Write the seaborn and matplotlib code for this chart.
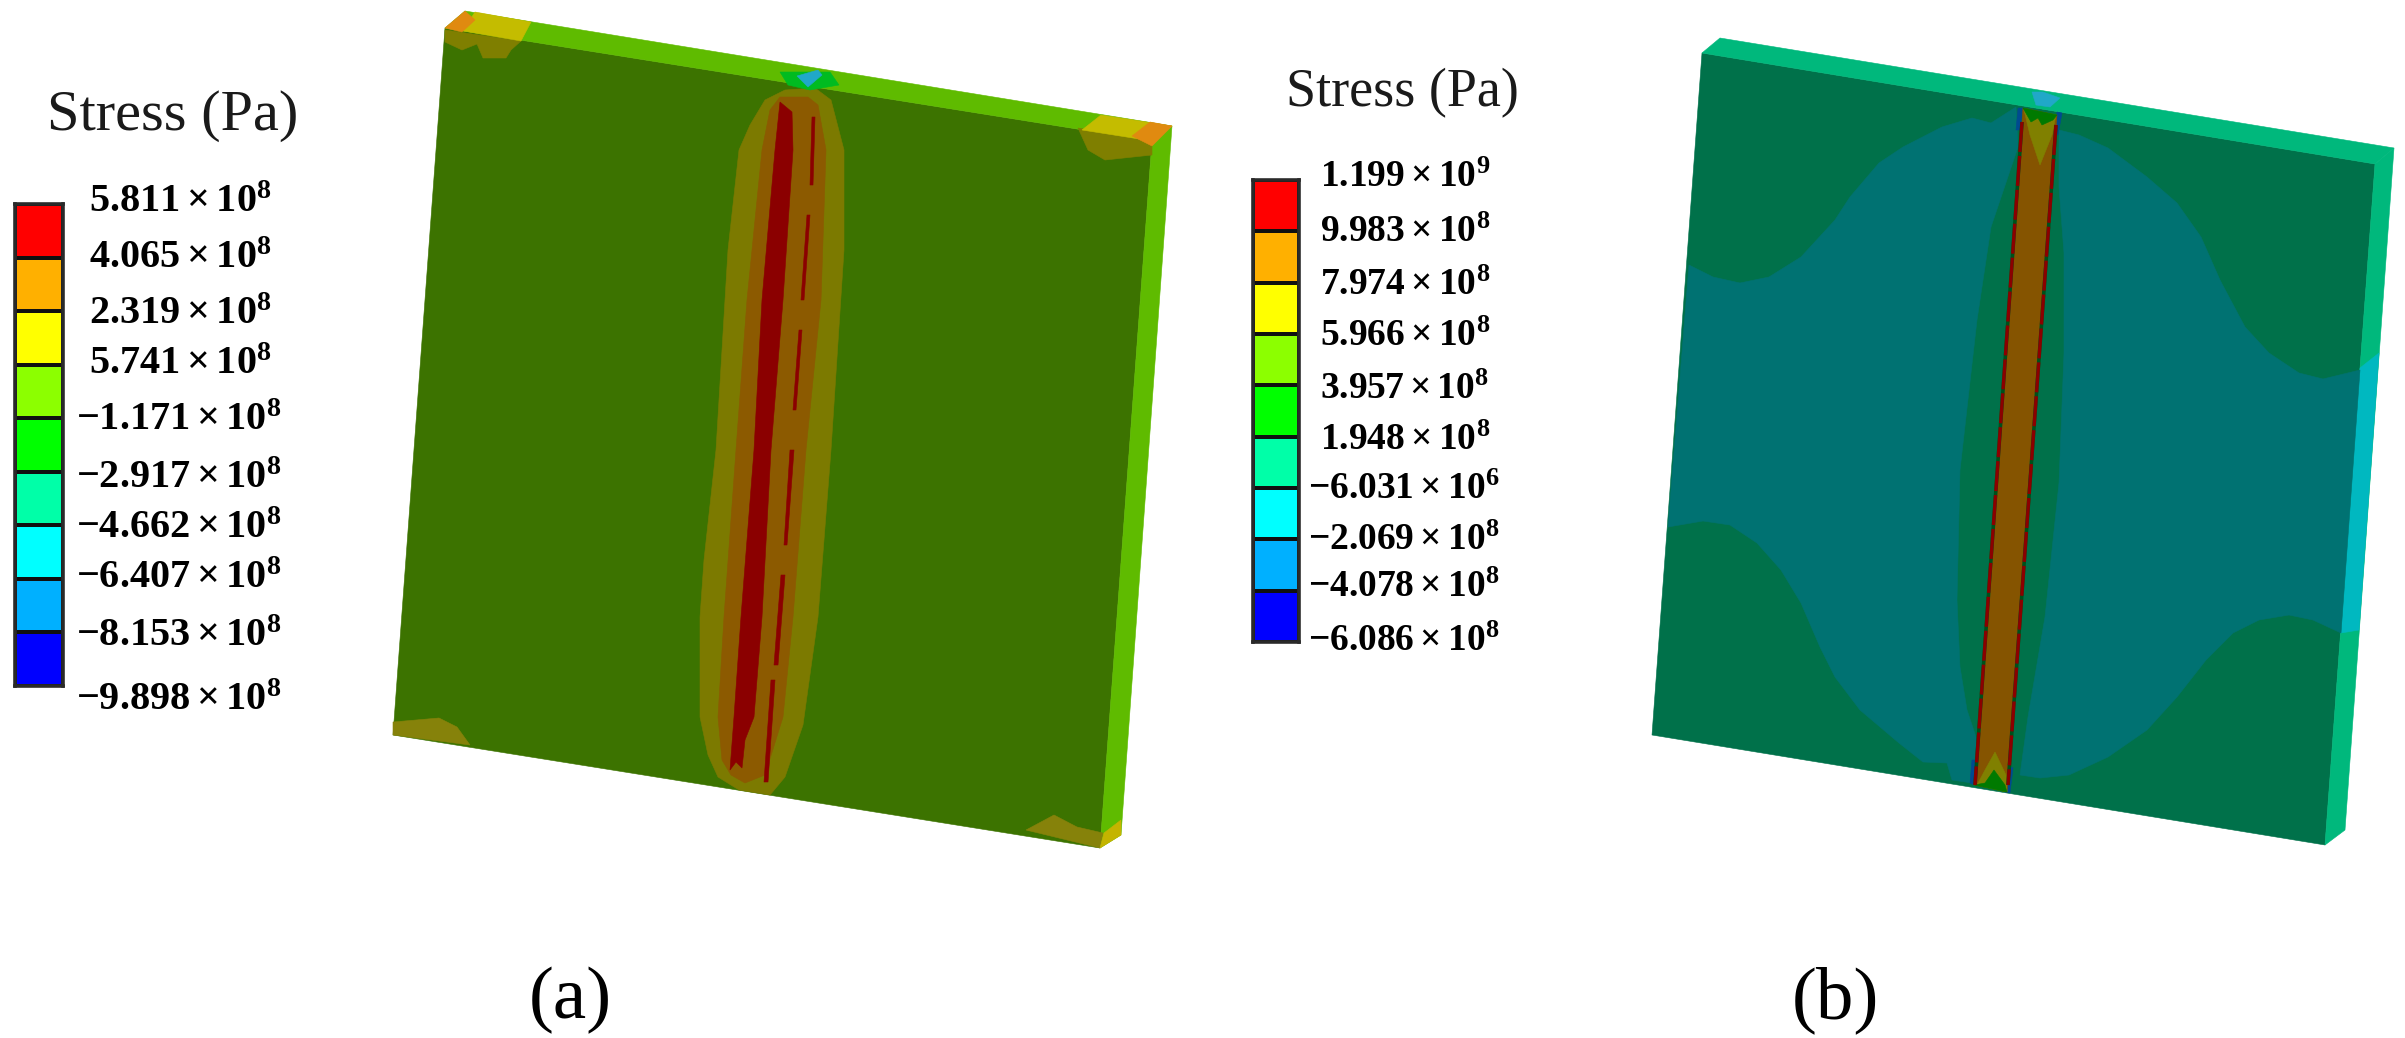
import numpy as np
import matplotlib
matplotlib.use("Agg")
import matplotlib.pyplot as plt
from matplotlib.colors import ListedColormap
import seaborn as sns

# ---- legend values ----
bands = ["#ff0000", "#ffb000", "#ffff00", "#8cff00", "#00ff00",
         "#00ffa8", "#00ffff", "#00b0ff", "#0000ff"]
a_sign = ["", "", "", "", "-", "-", "-", "-", "-", "-"]
a_mant = ["5.811", "4.065", "2.319", "5.741", "1.171", "2.917", "4.662", "6.407", "8.153", "9.898"]
a_exp = [8, 8, 8, 8, 8, 8, 8, 8, 8, 8]
b_sign = ["", "", "", "", "", "", "-", "-", "-", "-"]
b_mant = ["1.199", "9.983", "7.974", "5.966", "3.957", "1.948", "6.031", "2.069", "4.078", "6.086"]
b_exp = [9, 8, 8, 8, 8, 8, 6, 8, 8, 8]
a_label_y = [202, 258, 314, 364, 421, 479, 529, 579, 637, 700]
b_label_y = [178, 233, 286, 337, 390, 441, 490, 541, 588, 642]

# ---- panel (a) contour regions (image pixels) ----
a_top = [(465, 11), (1172, 126), (1152, 141), (445, 28)]
a_side = [(1152, 141), (1172, 126), (1121, 835), (1100, 848)]
a_front = [(445, 28), (1152, 141), (1100, 848), (393, 735)]
a_band_outer = [(785, 90), (765, 100), (750, 125), (739, 150), (728, 250), (716, 450), (704, 560), (700, 617),
                (700, 717), (708, 755), (718, 777), (739, 790), (770, 795), (785, 777), (803, 725), (818, 617),
                (831, 450), (844, 250), (844, 150), (831, 100), (815, 88)]
a_band_mid = [(780, 97), (770, 110), (762, 150), (747, 300), (736, 450), (724, 617), (718, 717), (722, 760),
              (731, 775), (745, 783), (765, 775), (783, 717), (793, 617), (806, 450), (821, 300), (826, 150),
              (818, 105), (808, 97)]
a_red_main = [(780, 102), (775, 150), (762, 300), (754, 450), (741, 617), (734, 717), (730, 770),
              (736, 762), (742, 768), (745, 740), (754, 717), (762, 617), (771, 450), (783, 300), (793, 150), (792, 112)]
a_red_thin_1 = [(812, 117), (815, 117), (813, 185), (810, 185)]
a_red_thin_2 = [(807, 215), (810, 215), (804, 300), (801, 300)]
a_red_thin_3 = [(799, 330), (802, 330), (796, 410), (793, 410)]
a_red_thin_4 = [(790, 450), (794, 450), (787, 545), (784, 545)]
a_red_thin_5 = [(781, 575), (785, 575), (778, 665), (774, 665)]
a_red_thin_6 = [(771, 680), (775, 680), (768, 782), (764, 782)]
a_corner_tl_front = [(445, 30), (521, 41), (511, 50), (506, 58), (483, 58), (477, 44), (462, 50), (445, 42)]
a_corner_tl_top = [(475, 12), (531, 22), (521, 41), (463, 31)]
a_corner_tl_tip = [(445, 28), (465, 11), (475, 20), (462, 32)]
a_corner_tr_front = [(1078, 128), (1152, 141), (1152, 155), (1105, 160), (1088, 150)]
a_corner_tr_top = [(1101, 115), (1172, 126), (1152, 141), (1082, 130)]
a_corner_tr_tip = [(1172, 126), (1152, 146), (1132, 136), (1150, 122)]
a_corner_bl = [(393, 722), (439, 718), (457, 727), (470, 745), (393, 735)]
a_corner_br = [(1026, 830), (1054, 815), (1077, 827), (1103, 833), (1100, 848)]
a_corner_br_side = [(1104, 833), (1121, 820), (1121, 835), (1100, 848)]
a_blot_green = [(780, 72), (830, 72), (839, 85), (810, 90), (788, 85)]
a_blot_cyan = [(797, 76), (818, 70), (822, 75), (808, 87)]

# ---- panel (b) contour regions (image pixels) ----
b_top = [(1720, 38), (2394, 148), (2375, 164), (1702, 53)]
b_side = [(2375, 164), (2394, 148), (2345, 830), (2325, 845)]
b_side_cyan = [(2360, 368), (2379, 353), (2359, 630), (2341, 633)]
b_front = [(1702, 53), (2375, 164), (2325, 845), (1652, 735)]
b_teal_left = [(1689, 265), (1713, 277), (1740, 283), (1769, 277), (1801, 257), (1835, 220), (1850, 197),
               (1879, 163), (1903, 147), (1942, 127), (1972, 118), (1991, 123), (2016, 107), (2018, 147),
               (1991, 227), (1977, 320), (1960, 470), (1957, 600), (1960, 667), (1967, 710), (1977, 740),
               (1972, 783), (1952, 780), (1947, 763), (1923, 762), (1899, 743), (1860, 710), (1835, 677),
               (1820, 647), (1801, 603), (1781, 570), (1757, 543), (1730, 525), (1703, 521), (1668, 527)]
b_teal_right = [(2059, 130), (2079, 135), (2108, 148), (2147, 177), (2177, 203), (2201, 237), (2220, 280),
                (2245, 327), (2269, 353), (2299, 373), (2323, 379), (2360, 370), (2341, 633), (2313, 620),
                (2289, 615), (2259, 620), (2233, 633), (2206, 660), (2177, 697), (2147, 730), (2108, 757),
                (2069, 775), (2040, 778), (2020, 775), (2028, 717), (2045, 617), (2059, 483), (2064, 353),
                (2064, 253), (2059, 187)]
b_strip = [(2023, 108), (2057, 115), (2007, 792), (1974, 785)]
b_strip_top_olive = [(2024, 110), (2056, 115), (2052, 135), (2040, 165), (2030, 135)]
b_strip_top_green = [(2023, 108), (2057, 115), (2053, 120), (2042, 125), (2038, 118), (2031, 122)]
b_strip_bot_olive = [(1977, 785), (2007, 792), (2006, 775), (1995, 752), (1985, 770)]
b_strip_bot_green = [(1974, 785), (2007, 792), (2005, 785), (1994, 770), (1985, 783)]
b_blot_cyan = [(2032, 92), (2043, 92), (2060, 98), (2050, 107), (2036, 105)]
b_edge_left = [(2022, 122), (1975, 785)]
b_edge_right = [(2056, 125), (2008, 785)]
b_blue_left = [(2018, 108), (2023, 108), (2020, 130), (2016, 130)]
b_blue_right = [(2057, 112), (2062, 113), (2058, 135), (2054, 135)]
b_blue_left_b = [(1972, 760), (1976, 760), (1974, 785), (1970, 783)]
b_blue_right_b = [(2007, 765), (2013, 768), (2010, 793), (2005, 792)]

# ---- captions and titles ----
title = "Stress (Pa)"
captions = ["(a)", "(b)"]

sns.set_theme(style="white")
plt.rcParams["font.family"] = ["Liberation Serif", "DejaVu Serif"]
plt.rcParams["mathtext.fontset"] = "custom"
plt.rcParams["mathtext.rm"] = "Liberation Serif:bold"
plt.rcParams["mathtext.bf"] = "Liberation Serif:bold"
plt.rcParams["mathtext.it"] = "Liberation Serif:bold"

W, H = 2405, 1038
fig = plt.figure(figsize=(W / 100, H / 100), dpi=100, facecolor="white")
ax = fig.add_axes([0, 0, 1, 1])
ax.set_xlim(0, W)
ax.set_ylim(H, 0)
ax.axis("off")


def poly(points, color, z=2):
    xs, ys = zip(*points)
    ax.fill(xs, ys, facecolor=color, edgecolor=color, linewidth=0.4, zorder=z)


# panel (a)
poly(a_front, "#3c7300", 2)
poly(a_top, "#5fbb00", 2)
poly(a_side, "#5fbb00", 2)
poly(a_band_outer, "#7c7a00", 3)
poly(a_band_mid, "#8c5a00", 4)
poly(a_red_main, "#8b0000", 5)
for seg in (a_red_thin_1, a_red_thin_2, a_red_thin_3, a_red_thin_4, a_red_thin_5, a_red_thin_6):
    poly(seg, "#8b0000", 5)
poly(a_corner_tl_front, "#7f7f00", 3)
poly(a_corner_tl_top, "#c4bc00", 3)
poly(a_corner_tl_tip, "#e08a10", 4)
poly(a_corner_tr_front, "#7f7f00", 3)
poly(a_corner_tr_top, "#c4bc00", 3)
poly(a_corner_tr_tip, "#e08a10", 4)
poly(a_corner_bl, "#86820a", 3)
poly(a_corner_br, "#86820a", 3)
poly(a_corner_br_side, "#c4b400", 3)
poly(a_blot_green, "#00bb20", 6)
poly(a_blot_cyan, "#20a8c8", 7)

# panel (b)
poly(b_front, "#00714a", 2)
poly(b_top, "#00b87c", 2)
poly(b_side, "#00b87c", 2)
poly(b_side_cyan, "#00b8c0", 3)
poly(b_teal_left, "#007272", 3)
poly(b_teal_right, "#007272", 3)
poly(b_blue_left, "#004a90", 3)
poly(b_blue_right, "#004a90", 3)
poly(b_blue_left_b, "#004a90", 3)
poly(b_blue_right_b, "#004a90", 3)
poly(b_strip, "#855400", 4)
poly(b_strip_top_olive, "#808000", 5)
poly(b_strip_top_green, "#007a00", 6)
poly(b_strip_bot_olive, "#808000", 5)
poly(b_strip_bot_green, "#007a00", 6)
poly(b_blot_cyan, "#20a8c8", 6)
for edge in (b_edge_left, b_edge_right):
    xs, ys = zip(*edge)
    ax.plot(xs, ys, color="#00501a", lw=2.6, zorder=7, solid_capstyle="butt")
    ax.plot(xs, ys, color="#8b0000", lw=2.4, dashes=(9, 1.2), zorder=8, dash_capstyle="butt")


def legend(x0, x1, y0, y1, sign, mant, exp, ys, pos_x, neg_x, size):
    cax = fig.add_axes([x0 / W, 1 - y1 / H, (x1 - x0) / W, (y1 - y0) / H])
    sns.heatmap(np.arange(len(bands)).reshape(-1, 1), cmap=ListedColormap(bands), cbar=False, ax=cax,
                linewidths=1.6, linecolor="#101010", xticklabels=False, yticklabels=False)
    for s in cax.spines.values():
        s.set_visible(True)
        s.set_color("#2a2a2a")
        s.set_linewidth(2.6)
    for sg, m, e, y in zip(sign, mant, exp, ys):
        prefix = "-" if sg else ""
        label = f"${prefix}{m}\\times 10^{{{e}}}$"
        ax.text(neg_x if sg else pos_x, y, label, fontsize=size, color="black", ha="left", va="center")


legend(15, 63, 204, 686, a_sign, a_mant, a_exp, a_label_y, 89, 76, 29)
legend(1253, 1299, 180, 642, b_sign, b_mant, b_exp, b_label_y, 1320, 1308, 27)

ax.text(173, 116, title, fontsize=42, ha="center", va="center", color="#1a1a1a")
ax.text(1402, 93, title, fontsize=39, ha="center", va="center", color="#1a1a1a")
ax.text(570, 1000, captions[0], fontsize=54, ha="center", va="center", color="black")
ax.text(1835, 1000, captions[1], fontsize=54, ha="center", va="center", color="black")

fig.savefig("out.png", dpi=100, facecolor="white")
